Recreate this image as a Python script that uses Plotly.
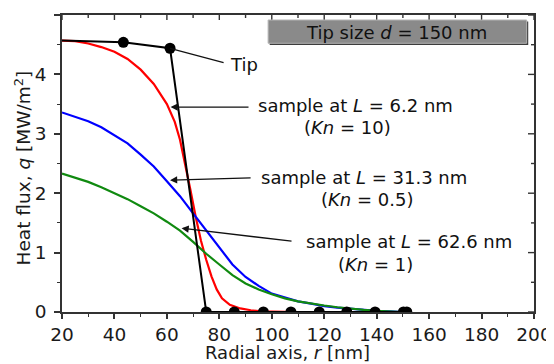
import plotly.graph_objects as go

# ---- data ----
red_x = [20, 25, 30, 35, 40, 45, 50, 55, 60, 63, 65, 67, 69, 71, 73, 75, 77, 79, 81, 84, 88, 92, 96, 100, 110, 150]
red_y = [4.57, 4.56, 4.52, 4.46, 4.38, 4.26, 4.08, 3.84, 3.50, 3.20, 2.90, 2.50, 2.05, 1.60, 1.20, 0.88, 0.60, 0.38, 0.23, 0.12, 0.06, 0.03, 0.01, 0.005, 0.0, 0.0]

blue_x = [20, 25, 30, 35, 40, 45, 50, 55, 60, 65, 70, 75, 80, 85, 90, 95, 100, 105, 110, 115, 120, 125, 130, 135, 140, 145, 150]
blue_y = [3.36, 3.29, 3.21, 3.11, 2.97, 2.84, 2.65, 2.45, 2.20, 1.95, 1.66, 1.38, 1.08, 0.80, 0.59, 0.44, 0.31, 0.24, 0.18, 0.14, 0.10, 0.075, 0.055, 0.035, 0.02, 0.01, 0.0]

green_x = [20, 25, 30, 35, 40, 45, 50, 55, 60, 65, 70, 75, 80, 85, 90, 95, 100, 105, 110, 115, 120, 125, 130, 135, 140, 145, 150]
green_y = [2.33, 2.26, 2.19, 2.10, 2.00, 1.90, 1.78, 1.66, 1.52, 1.37, 1.18, 0.98, 0.80, 0.62, 0.48, 0.38, 0.30, 0.23, 0.18, 0.14, 0.11, 0.08, 0.055, 0.035, 0.02, 0.01, 0.0]

tip_x = [20, 43.4, 61.2, 75.0, 85.7, 96.8, 107.3, 118.1, 128.6, 139.4, 150.2, 151.5]
tip_y = [4.57, 4.54, 4.44, 0, 0, 0, 0, 0, 0, 0, 0, 0]

x_ticks = [20, 40, 60, 80, 100, 120, 140, 160, 180, 200]
y_ticks = [0, 1, 2, 3, 4, 5]

FONT = "DejaVu Sans"
AX = "#333333"

fig = go.Figure()
fig.add_trace(go.Scatter(x=red_x, y=red_y, mode="lines", line=dict(color="#ff0000", width=2.2), hoverinfo="skip"))
fig.add_trace(go.Scatter(x=blue_x, y=blue_y, mode="lines", line=dict(color="#0000ff", width=2.2), hoverinfo="skip"))
fig.add_trace(go.Scatter(x=green_x, y=green_y, mode="lines", line=dict(color="#108a10", width=2.2), hoverinfo="skip"))
fig.add_trace(go.Scatter(x=tip_x, y=tip_y, mode="lines+markers", cliponaxis=True,
                         line=dict(color="#000000", width=2),
                         marker=dict(color="#000000", opacity=1, line=dict(width=0),
                                     size=[0] + [11] * (len(tip_x) - 1)),
                         hoverinfo="skip"))

axis_common = dict(showgrid=False, zeroline=False, tickcolor=AX, tickwidth=1.5, automargin=False,
                   tickfont=dict(family=FONT, size=18.5, color="#1a1a1a"))

# the page has an 8px body margin: figure offset so the plot area lands where the reference has it
fig.update_layout(
    template="none",
    width=546, height=356,
    margin=dict(l=54, r=20, t=7, b=52, autoexpand=False),
    paper_bgcolor="white", plot_bgcolor="white",
    showlegend=False,
    xaxis=dict(range=[20, 200], tickvals=x_ticks, ticks="outside", ticklen=5,
               minor=dict(dtick=10, ticks="outside", ticklen=3, tickcolor=AX, tickwidth=1.2),
               showline=True, mirror=True, linecolor=AX, linewidth=1.6, **axis_common),
    yaxis=dict(range=[0, 5], tickvals=y_ticks, ticks="outside", ticklen=6, ticklabelstandoff=4,
               minor=dict(dtick=0.5, ticks="outside", ticklen=3, tickcolor=AX, tickwidth=1.2),
               showline=True, mirror=True, linecolor=AX, linewidth=1.6, **axis_common),
)

# inside ticks on the top and right frame edges, generated from the tick lists
tick_line = dict(color=AX, width=1.4)
for i, t in enumerate(x_ticks):
    fig.add_shape(type="line", xref="x", yref="paper", x0=t, x1=t, y0=1, y1=1 - 5 / 297, line=tick_line)
    if i + 1 < len(x_ticks):
        m = (t + x_ticks[i + 1]) / 2
        fig.add_shape(type="line", xref="x", yref="paper", x0=m, x1=m, y0=1, y1=1 - 3 / 297, line=tick_line)
for i, t in enumerate(y_ticks):
    fig.add_shape(type="line", xref="paper", yref="y", x0=1, x1=1 - 6 / 472, y0=t, y1=t, line=tick_line)
    if i + 1 < len(y_ticks):
        m = (t + y_ticks[i + 1]) / 2
        fig.add_shape(type="line", xref="paper", yref="y", x0=1, x1=1 - 3 / 472, y0=m, y1=m, line=tick_line)

# Title box
fig.add_shape(type="rect", xref="x", yref="y", x0=99.2, x1=197.8, y0=4.495, y1=4.89,
              fillcolor="#3c3c3c", line=dict(width=0), layer="above")
fig.add_shape(type="rect", xref="x", yref="y", x0=98.6, x1=197.2, y0=4.524, y1=4.916,
              fillcolor="#8a8a8a", line=dict(color="#b5b5b5", width=1), layer="above")

tfont = dict(family=FONT, size=18, color="#111111")
C = dict(xanchor="center", yanchor="middle", showarrow=False)
ann = []
ann.append(dict(x=147.6, y=4.70, xref="x", yref="y", text="Tip size <i>d</i> = 150 nm", font=tfont, **C))
# Tip label + leader
ann.append(dict(x=61.2, y=4.44, ax=82.2, ay=4.19, xref="x", yref="y", axref="x", ayref="y",
                text="", showarrow=True, arrowhead=0, arrowwidth=1.3, arrowcolor="#111111"))
ann.append(dict(x=89.3, y=4.16, xref="x", yref="y", text="Tip", font=tfont, **C))
# arrows to curves
for hx, hy, tx, ty in [(61.4, 3.45, 91.7, 3.45), (61.2, 2.22, 92.5, 2.26), (65.6, 1.41, 108.1, 1.19)]:
    ann.append(dict(x=hx, y=hy, ax=tx, ay=ty, xref="x", yref="y", axref="x", ayref="y",
                    text="", showarrow=True, arrowhead=2, arrowsize=1.1, arrowwidth=1.3,
                    arrowcolor="#111111"))
labels = [
    (132.0, 3.47, "sample at <i>L</i> = 6.2 nm"),
    (128.9, 3.11, "(<i>Kn</i> = 10)"),
    (135.0, 2.26, "sample at <i>L</i> = 31.3 nm"),
    (136.5, 1.89, "(<i>Kn</i> = 0.5)"),
    (152.3, 1.19, "sample at <i>L</i> = 62.6 nm"),
    (139.7, 0.795, "(<i>Kn</i> = 1)"),
]
for x, y, t in labels:
    ann.append(dict(x=x, y=y, xref="x", yref="y", text=t, font=tfont, **C))

# axis titles
ann.append(dict(x=0.478, y=-0.138, xref="paper", yref="paper",
                text="Radial axis, <i>r</i> [nm]", font=dict(family=FONT, size=18, color="#1a1a1a"), **C))
ann.append(dict(x=-0.0837, y=0.485, xref="paper", yref="paper", textangle=-90,
                text="Heat flux, <i>q</i> [MW/m<sup>2</sup>]", font=dict(family=FONT, size=18.5, color="#1a1a1a"), **C))
fig.update_layout(annotations=ann)

fig.write_html("out.html")
